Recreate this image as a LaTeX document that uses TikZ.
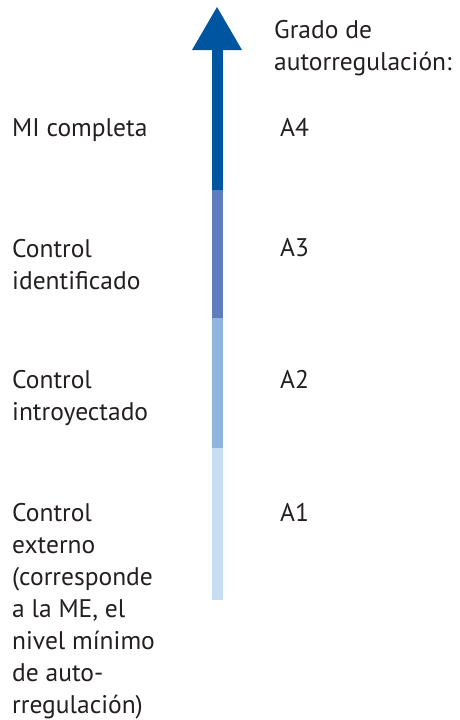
\documentclass[tikz,border=0pt]{standalone}
\usepackage{fontspec}
\setmainfont{PT Sans}
\usepackage{tikz}
\definecolor{ink}{HTML}{231F20}
\definecolor{barA}{HTML}{0055A0}
\definecolor{barB}{HTML}{5D7DBF}
\definecolor{barC}{HTML}{8FB4DE}
\definecolor{barD}{HTML}{C7DDF2}

\begin{document}
\begin{tikzpicture}[x=1pt,y=-1pt,
    lbl/.style={anchor=base west, inner sep=0pt, align=left, text=ink,
      font=\fontsize{25.5}{32}\selectfont}]
      \useasboundingbox (0,0) rectangle (460,720);
      % bar, from light (bottom) to dark (top)
      \fill[barD] (212,448) rectangle (223,600);
      \fill[barC] (212,318) rectangle (223,448);
      \fill[barB] (212,190) rectangle (223,318);
      \fill[barA] (212,50) rectangle (223,190);
      % arrow head
      \fill[barA] (192,50) -- (242,50) -- (217,7) -- cycle;
      % levels on the left (base = baseline of the last line)
      \node[lbl] (mi) at (12,136) {MI completa};
      \node[lbl] (ident) at (12,289) {Control\\identificado};
      \node[lbl] (intro) at (12,420) {Control\\introyectado};
      \node[lbl] (ext) at (12,713) {Control\\externo\\(corresponde\\a la ME, el\\nivel mínimo\\de auto-\\rregulación)};
      % degrees on the right
      \node[lbl] (grado) at (274,70) {Grado de\\autorregulación:};
      \node[lbl] (a4) at (280,136) {A4};
      \node[lbl] (a3) at (280,256) {A3};
      \node[lbl] (a2) at (280,388) {A2};
      \node[lbl] (a1) at (280,521) {A1};
    \end{tikzpicture}
\end{document}
